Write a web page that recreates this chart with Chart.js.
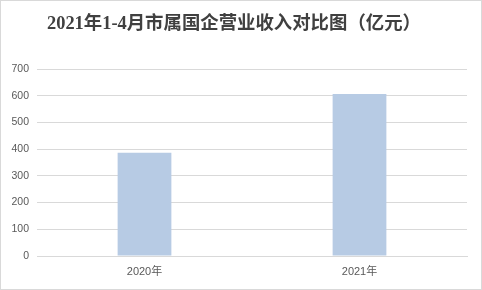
<!DOCTYPE html>
<html>
<head>
<meta charset="utf-8">
<script src="https://cdn.jsdelivr.net/npm/chart.js@4"></script>
<style>
  body { margin: 0; background: #fff; }
  #box { width: 480px; height: 288px; border: 1px solid #d9d9d9; position: relative; }
</style>
</head>
<body>
<div id="box"><canvas id="revChart" width="480" height="288"></canvas></div>
<script>
const years = ["2020年", "2021年"];
const revenue = [387, 607];
const yTicks = [0, 100, 200, 300, 400, 500, 600, 700];

const grey = "#595959";

new Chart(document.getElementById("revChart"), {
    type: "bar",
    data: {
        labels: years,
        datasets: [{
            label: "营业收入",
            data: revenue,
            backgroundColor: "#b7cbe4",
            barPercentage: 0.5,
            categoryPercentage: 0.5
        }]
    },
    options: {
        responsive: false,
        animation: false,
        layout: { padding: { left: 0, right: 14, top: 0, bottom: 0 } },
        plugins: {
            legend: { display: false },
            tooltip: { enabled: false },
            title: {
                display: true,
                text: "2021年1-4月市属国企营业收入对比图（亿元）",
                color: "#404040",
                font: { family: "'Liberation Serif', 'Noto Sans CJK SC'", size: 18.4, weight: "bold" },
                padding: { top: 12, bottom: 34 }
            }
        },
        scales: {
            x: {
                grid: { display: false, drawTicks: false },
                border: { display: true, color: "#d9d9d9" },
                ticks: { color: grey, font: { family: "'Liberation Sans', 'Noto Sans CJK SC'", size: 11 }, padding: 9 },
                afterFit: s => { s.height = 33; }
            },
            y: {
                min: 0,
                max: 700,
                afterBuildTicks: s => { s.ticks = yTicks.map(v => ({ value: v })); },
                grid: { color: "#d9d9d9", drawTicks: false },
                border: { display: false },
                ticks: { color: grey, font: { family: "'Liberation Sans'", size: 10.5 }, padding: 8 },
                afterFit: s => { s.width = 36; }
            }
        }
    }
});
</script>
</body>
</html>
